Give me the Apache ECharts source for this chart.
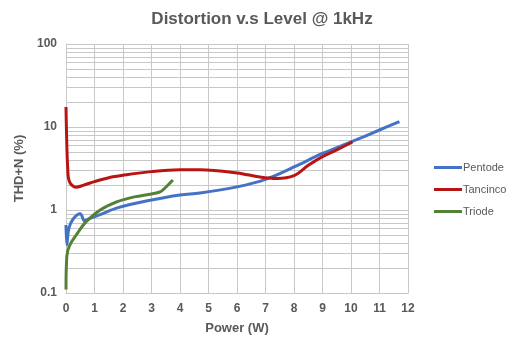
<!DOCTYPE html>
<html>
<head>
<meta charset="utf-8">
<script src="https://cdn.jsdelivr.net/npm/echarts@6/dist/echarts.min.js"></script>
<style>
  html, body { margin: 0; padding: 0; background: #ffffff; }
  #chart { width: 521px; height: 346px; }
</style>
</head>
<body>
<div id="chart"></div>
<script>
// Power (W) sample points and THD+N (%) readings for each output stage
const pentodePower = [0, 0.03, 0.1, 0.25, 0.5, 0.65, 0.8, 1.2, 1.8, 2.9, 4.0, 4.7, 6.0, 7.0, 8.0, 9.0, 10.0, 11.0, 11.7];
const pentodeThd   = [0.66, 0.38, 0.6, 0.78, 0.9, 0.74, 0.78, 0.88, 1.06, 1.3, 1.52, 1.6, 1.9, 2.34, 3.3, 4.8, 6.6, 9.2, 11.6];

const tancincoPower = [0, 0.02, 0.06, 0.12, 0.35, 0.6, 1.0, 1.5, 2.0, 3.0, 4.0, 4.7, 6.0, 6.8, 7.4, 8.0, 8.5, 9.0, 9.5, 10.05];
const tancincoThd   = [17.4, 8, 3.2, 2.2, 1.88, 1.98, 2.2, 2.45, 2.62, 2.9, 3.05, 3.05, 2.8, 2.5, 2.4, 2.6, 3.45, 4.4, 5.3, 6.6];

const triodePower = [0, 0.03, 0.12, 0.36, 0.7, 1.2, 1.8, 2.4, 3.0, 3.3, 3.5, 3.75];
const triodeThd   = [0.11, 0.28, 0.37, 0.5, 0.72, 1.0, 1.26, 1.44, 1.56, 1.65, 1.88, 2.3];

// Log-decade minor gridlines (2..9 within each decade)
const minorGrid = [0.2, 0.3, 0.4, 0.5, 0.6, 0.7, 0.8, 0.9,
                   2, 3, 4, 5, 6, 7, 8, 9,
                   20, 30, 40, 50, 60, 70, 80, 90];

const xTicks = { min: 0, max: 12, interval: 1 };
const yRange = { min: 0.1, max: 100 };

function pairs(xs, ys) { return xs.map((x, i) => [x, ys[i]]); }

const gridColor = '#c8c8c8';
const textColor = '#595959';
const fontFamily = '"Liberation Sans", Arial, sans-serif';

const chart = echarts.init(document.getElementById('chart'), null, { renderer: 'canvas' });

chart.setOption({
  animation: false,
  backgroundColor: '#ffffff',
  title: {
    text: 'Distortion v.s Level @ 1kHz',
    left: 257, top: 6, textAlign: 'center',
    textStyle: { fontFamily, fontSize: 17, fontWeight: 'bold', color: textColor }
  },
  legend: {
    orient: 'vertical',
    left: 429, top: 157,
    icon: 'rect', itemWidth: 28, itemHeight: 3, itemGap: 11,
    textStyle: { fontFamily, fontSize: 11, color: textColor, padding: [0, 0, 0, -4] },
    data: ['Pentode', 'Tancinco', 'Triode']
  },
  grid: { left: 66, right: 113, top: 44, bottom: 53, containLabel: false },
  xAxis: {
    type: 'value', min: xTicks.min, max: xTicks.max, interval: xTicks.interval,
    name: 'Power (W)', nameLocation: 'middle', nameGap: 29,
    nameTextStyle: { fontFamily, fontSize: 13, fontWeight: 'bold', color: textColor },
    axisLine: { show: true, lineStyle: { color: gridColor } },
    axisTick: { show: false },
    axisLabel: { fontFamily, fontSize: 12, fontWeight: 'bold', color: textColor, margin: 10 },
    splitLine: { show: true, lineStyle: { color: gridColor, width: 1 } }
  },
  yAxis: {
    type: 'log', logBase: 10, min: yRange.min, max: yRange.max,
    name: 'THD+N (%)', nameLocation: 'middle', nameGap: 37,
    nameTextStyle: { fontFamily, fontSize: 13, fontWeight: 'bold', color: textColor },
    axisLine: { show: true, lineStyle: { color: gridColor } },
    axisTick: { show: false },
    axisLabel: { fontFamily, fontSize: 12, fontWeight: 'bold', color: textColor, margin: 9 },
    splitLine: { show: true, lineStyle: { color: gridColor, width: 1 } }
  },
  series: [
    {
      name: 'Gridlines', type: 'line', data: [], silent: true, z: 0,
      markLine: {
        silent: true, symbol: 'none', animation: false, z: 0,
        label: { show: false },
        lineStyle: { color: gridColor, width: 1, type: 'solid' },
        data: minorGrid.map(v => ({ yAxis: v }))
      }
    },
    {
      name: 'Pentode', type: 'line', data: pairs(pentodePower, pentodeThd), z: 5,
      smooth: 0.35, showSymbol: false, symbol: 'none',
      lineStyle: { color: '#4472C4', width: 3 }, itemStyle: { color: '#4472C4' }
    },
    {
      name: 'Tancinco', type: 'line', data: pairs(tancincoPower, tancincoThd), z: 6,
      smooth: 0.35, showSymbol: false, symbol: 'none',
      lineStyle: { color: '#B81414', width: 3 }, itemStyle: { color: '#B81414' }
    },
    {
      name: 'Triode', type: 'line', data: pairs(triodePower, triodeThd), z: 7,
      smooth: 0.35, showSymbol: false, symbol: 'none',
      lineStyle: { color: '#538135', width: 3 }, itemStyle: { color: '#538135' }
    }
  ]
});
</script>
</body>
</html>
